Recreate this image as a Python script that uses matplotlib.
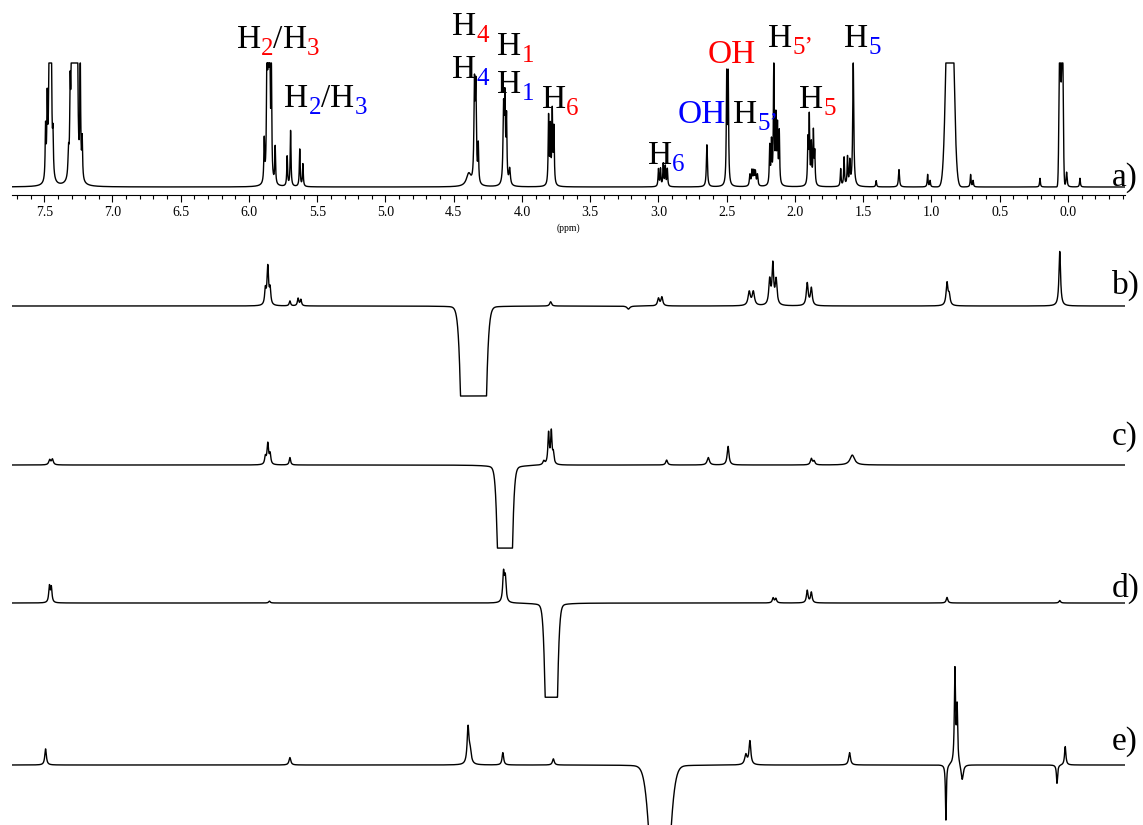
import numpy as np
import matplotlib.pyplot as plt

plt.rcParams['font.family'] = ['Liberation Serif', 'DejaVu Serif']

RED = '#ff0000'
BLUE = '#0000ff'

# chemical shift grid (ppm), drawn from high to low field
ppm = np.linspace(7.74, -0.42, 16000)

# ---- a) 1H spectrum, lorentzian lines: centre (ppm), height, half width (ppm)
a_pos = [7.490, 7.478, 7.462, 7.450, 7.436,
         7.322, 7.310, 7.298, 7.285, 7.272, 7.258, 7.236, 7.222,
         5.888, 5.868, 5.858, 5.848, 5.836, 5.808,
         5.720, 5.695, 5.628, 5.605,
         4.390, 4.348, 4.338, 4.320,
         4.135, 4.125, 4.113, 4.090,
         3.805, 3.792, 3.778, 3.766,
         3.000, 2.985, 2.965, 2.950, 2.935,
         2.645, 2.500, 2.489,
         2.330, 2.315, 2.302, 2.290, 2.275,
         2.185, 2.172, 2.155, 2.140, 2.128, 2.115,
         1.905, 1.895, 1.880, 1.865, 1.855,
         1.665, 1.640, 1.615, 1.598, 1.573,
         1.405, 1.238, 1.028, 1.010, 0.713, 0.695,
         0.205, 0.010, -0.088]
a_hgt = [0.42, 0.60, 1.60, 1.60, 0.30,
         0.20, 0.62, 1.60, 1.60, 1.60, 1.60, 0.95, 0.32,
         0.34, 1.30, 1.30, 1.30, 0.90, 0.30,
         0.24, 0.45, 0.30, 0.18,
         0.10, 0.76, 0.74, 0.30,
         0.58, 0.66, 0.50, 0.13,
         0.55, 0.45, 0.58, 0.45,
         0.14, 0.14, 0.18, 0.16, 0.14,
         0.34, 0.87, 0.87,
         0.09, 0.12, 0.11, 0.11, 0.09,
         0.31, 0.33, 1.00, 0.52, 0.45, 0.42,
         0.35, 0.54, 0.32, 0.42, 0.25,
         0.14, 0.23, 0.23, 0.19, 1.00,
         0.05, 0.14, 0.10, 0.05, 0.10, 0.05,
         0.07, 0.12, 0.07]
a_wid = [0.0035, 0.0035, 0.0045, 0.0045, 0.0035,
         0.0045, 0.0035, 0.0045, 0.0045, 0.0045, 0.0045, 0.0035, 0.0035,
         0.0035, 0.0035, 0.0035, 0.0035, 0.0035, 0.0035,
         0.0035, 0.0035, 0.0035, 0.0035,
         0.020, 0.0045, 0.0045, 0.0035,
         0.0045, 0.0045, 0.0035, 0.006,
         0.0035, 0.0035, 0.0035, 0.0035,
         0.0035, 0.0035, 0.0035, 0.0035, 0.0035,
         0.0045, 0.0035, 0.0035,
         0.0045, 0.0045, 0.0045, 0.0045, 0.0045,
         0.0035, 0.0035, 0.0035, 0.0035, 0.0035, 0.0035,
         0.0035, 0.0035, 0.0035, 0.0035, 0.0035,
         0.0035, 0.0035, 0.0035, 0.0035, 0.0045,
         0.0035, 0.0045, 0.0035, 0.0035, 0.0035, 0.0035,
         0.0035, 0.0045, 0.0035]
# broad, off-scale signals (gaussian): centre, height, sigma
a_gpos = [0.865, 0.059, 0.041]
a_ghgt = [2.40, 1.30, 1.30]
a_gwid = [0.0226, 0.006, 0.006]

# ---- b) irradiation of H4
b_pos = [5.880, 5.862, 5.845, 5.700, 5.640, 5.620, 3.790, 3.220,
         3.000, 2.975, 2.335, 2.305, 2.185, 2.162, 2.138,
         1.910, 1.880, 0.886, 0.870, 0.060, 4.350]
b_hgt = [0.12, 0.31, 0.12, 0.04, 0.06, 0.05, 0.035, -0.025,
         0.06, 0.07, 0.11, 0.11, 0.20, 0.32, 0.20,
         0.18, 0.14, 0.18, 0.08, 0.44, -0.05]
b_wid = [0.006, 0.007, 0.006, 0.006, 0.006, 0.006, 0.008, 0.012,
         0.008, 0.008, 0.010, 0.010, 0.008, 0.007, 0.008,
         0.008, 0.008, 0.008, 0.008, 0.007, 0.060]
b_gpos, b_ghgt, b_gwid = [4.355], [-15.6], [0.0384]
b_clip = -0.726

# ---- c) irradiation of H1
c_pos = [7.460, 7.440, 5.880, 5.862, 5.845, 5.700,
         3.840, 3.805, 3.785, 3.770, 2.940, 2.635, 2.490,
         1.880, 1.860, 1.580, 4.120]
c_hgt = [0.040, 0.045, 0.06, 0.17, 0.08, 0.06,
         0.03, 0.25, 0.26, 0.08, 0.04, 0.06, 0.15,
         0.05, 0.03, 0.08, -0.08]
c_wid = [0.008, 0.008, 0.006, 0.007, 0.006, 0.006,
         0.008, 0.006, 0.006, 0.006, 0.008, 0.010, 0.008,
         0.008, 0.008, 0.020, 0.050]
c_gpos, c_ghgt, c_gwid = [4.125], [-5.4], [0.0269]
c_clip = -0.67

# ---- d) irradiation of H6
d_pos = [7.462, 7.448, 5.850, 4.135, 4.122, 2.160, 2.140,
         1.910, 1.880, 0.886, 0.060, 3.785]
d_hgt = [0.13, 0.12, 0.015, 0.23, 0.19, 0.04, 0.035,
         0.10, 0.085, 0.045, 0.02, -0.06]
d_wid = [0.006, 0.006, 0.007, 0.007, 0.007, 0.007, 0.007,
         0.007, 0.007, 0.007, 0.007, 0.050]
d_gpos, d_ghgt, d_gwid = [3.785], [-4.1], [0.0245]
d_clip = -0.76

# ---- e) irradiation of H6 (minor isomer)
e_pos = [7.490, 5.700, 4.395, 4.380, 4.140, 3.770, 2.360, 2.330, 1.600,
         0.828, 0.812, 0.894, 0.775, 0.020, 0.080, 2.990]
e_hgt = [0.13, 0.06, 0.29, 0.10, 0.10, 0.05, 0.08, 0.19, 0.10,
         0.76, 0.45, -0.45, -0.13, 0.15, -0.15, -0.08]
e_wid = [0.007, 0.008, 0.008, 0.010, 0.007, 0.008, 0.010, 0.008, 0.008,
         0.005, 0.005, 0.004, 0.010, 0.006, 0.005, 0.050]
e_gpos, e_ghgt, e_gwid = [2.990], [-2.05], [0.049]
e_clip = -10.0

tick_major = np.arange(0.0, 7.51, 0.5)
tick_minor = np.arange(-0.4, 7.75, 0.1)

# assignment labels: left ppm, baseline height, (text, colour, subscript)
labels = [
    (6.09, 1.12, [('H', 'k', 0), ('2', RED, 1), ('/', 'k', 0), ('H', 'k', 0), ('3', RED, 1)]),
    (5.74, 0.645, [('H', 'k', 0), ('2', BLUE, 1), ('/', 'k', 0), ('H', 'k', 0), ('3', BLUE, 1)]),
    (4.51, 1.226, [('H', 'k', 0), ('4', RED, 1)]),
    (4.51, 0.879, [('H', 'k', 0), ('4', BLUE, 1)]),
    (4.18, 1.065, [('H', 'k', 0), ('1', RED, 1)]),
    (4.18, 0.758, [('H', 'k', 0), ('1', BLUE, 1)]),
    (3.853, 0.637, [('H', 'k', 0), ('6', RED, 1)]),
    (3.077, 0.185, [('H', 'k', 0), ('6', BLUE, 1)]),
    (2.857, 0.516, [('OH', BLUE, 0)]),
    (2.637, 1.00, [('OH', RED, 0)]),
    (2.454, 0.516, [('H', 'k', 0), ('5\u2019', BLUE, 1)]),
    (2.198, 1.129, [('H', 'k', 0), ('5\u2019', RED, 1)]),
    (1.971, 0.637, [('H', 'k', 0), ('5', RED, 1)]),
    (1.641, 1.129, [('H', 'k', 0), ('5', BLUE, 1)]),
]
panel_tags = ['a)', 'b)', 'c)', 'd)', 'e)']


def lorentz(pos, hgt, wid):
    y = np.zeros_like(ppm)
    for p, h, w in zip(pos, hgt, wid):
        y += h * w**2 / ((ppm - p)**2 + w**2)
    return y


def gauss(pos, hgt, wid):
    y = np.zeros_like(ppm)
    for p, h, s in zip(pos, hgt, wid):
        y += h * np.exp(-0.5 * ((ppm - p) / s)**2)
    return y


def put_label(ax, x, y, parts, size=24):
    s, c, sub = parts[0]
    first = ax.text(x, y, s, color=c, fontsize=size, ha='left', va='baseline')
    prev = first
    for s, c, sub in parts[1:]:
        prev = ax.annotate(s, xy=(1, 0), xycoords=(prev, first),
                           xytext=(0, -3.5 if sub else 0), textcoords='offset points',
                           color=c, fontsize=18 if sub else size,
                           ha='left', va='bottom')


W, H = 1143, 825
fig = plt.figure(figsize=(W / 100, H / 100), dpi=100)
left, width = 12 / W, 1113 / W
xlim = (7.736, -0.418)

# top: reference spectrum with ppm axis
ax_a = fig.add_axes([left, 1 - 195 / H, width, 187 / H])
spec_a = lorentz(a_pos, a_hgt, a_wid) + gauss(a_gpos, a_ghgt, a_gwid)
ax_a.plot(ppm, np.minimum(spec_a, 1.0), color='k', lw=1.0)
ax_a.set_xlim(*xlim)
ax_a.set_ylim(-0.0645, 1.4435)
for side in ['top', 'left', 'right']:
    ax_a.spines[side].set_visible(False)
ax_a.spines['bottom'].set_linewidth(0.8)
ax_a.set_yticks([])
ax_a.set_xticks(tick_major)
ax_a.set_xticklabels([f'{t:.1f}' for t in tick_major], fontsize=10)
ax_a.set_xticks(tick_minor, minor=True)
ax_a.tick_params(axis='x', which='major', direction='out', length=5, width=0.8, pad=3)
ax_a.tick_params(axis='x', which='minor', direction='out', length=3, width=0.8)
fig.text(568 / W, 1 - 228 / H, '(ppm)', fontsize=7, ha='center', va='center')

for x, y, parts in labels:
    put_label(ax_a, x, y, parts)

# lower: selective experiments, stacked in pixel units
ax_s = fig.add_axes([left, 0, width, 595 / H])
ax_s.set_xlim(*xlim)
ax_s.set_ylim(H, 230)
ax_s.axis('off')
scale = 124
traces = [
    (b_pos, b_hgt, b_wid, b_gpos, b_ghgt, b_gwid, b_clip, 306),
    (c_pos, c_hgt, c_wid, c_gpos, c_ghgt, c_gwid, c_clip, 465),
    (d_pos, d_hgt, d_wid, d_gpos, d_ghgt, d_gwid, d_clip, 603),
    (e_pos, e_hgt, e_wid, e_gpos, e_ghgt, e_gwid, e_clip, 765),
]
for pos, hgt, wid, gp, gh, gw, clip, base in traces:
    y = lorentz(pos, hgt, wid) + gauss(gp, gh, gw)
    ax_s.plot(ppm, base - scale * np.maximum(y, clip), color='k', lw=1.0)

for tag, yc in zip(panel_tags, [178, 285, 437, 588, 742]):
    fig.text(1112 / W, 1 - yc / H, tag, fontsize=24, ha='left', va='center')

fig.savefig('out.png', dpi=100)
